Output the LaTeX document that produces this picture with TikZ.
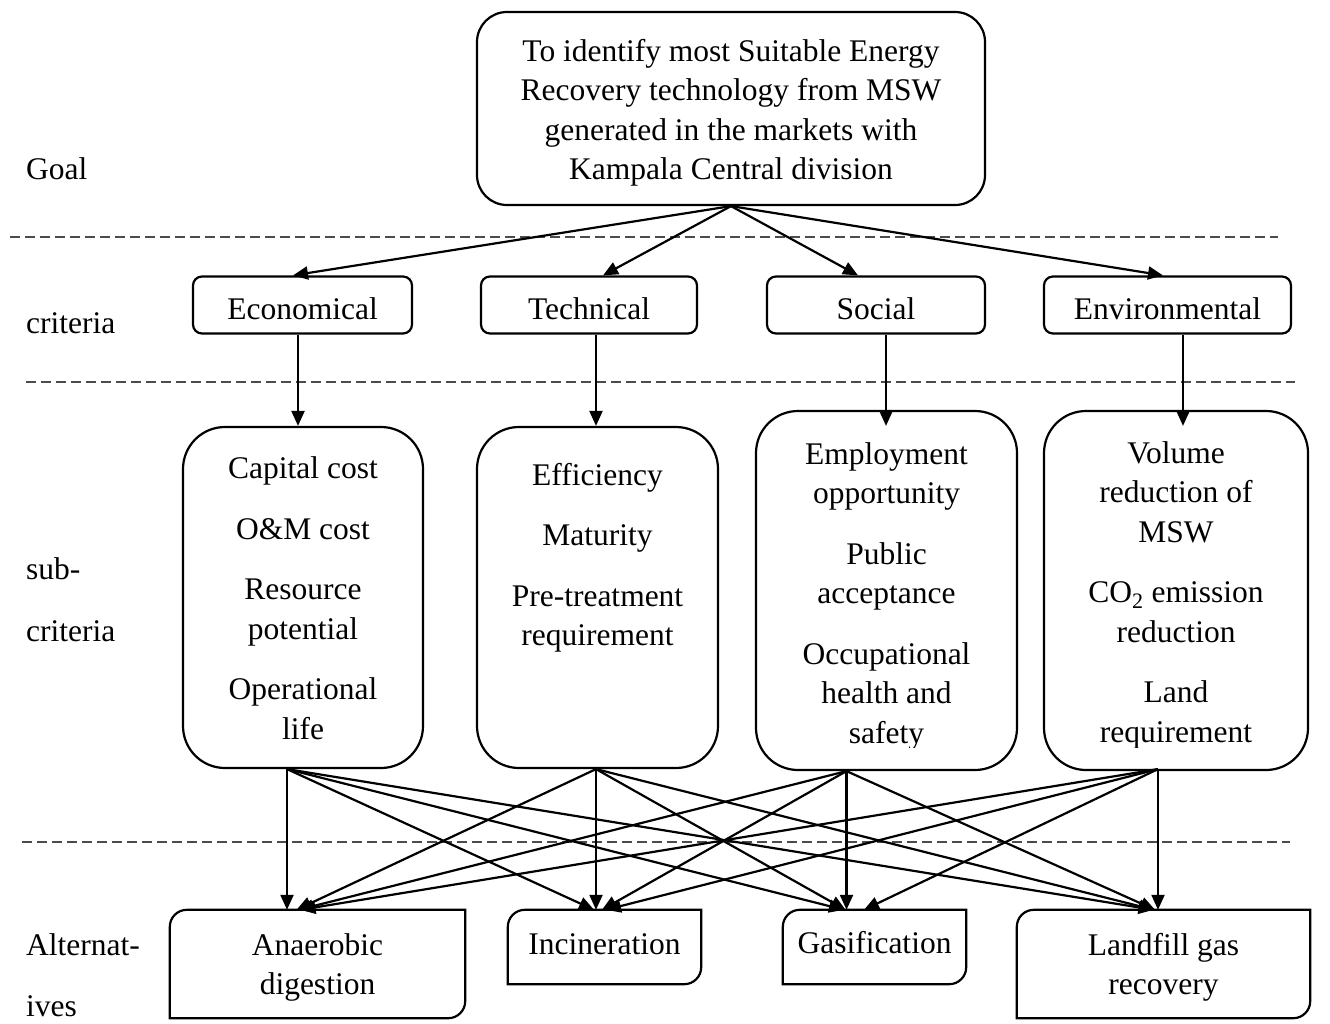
\documentclass[tikz,border=0pt]{standalone}
\usepackage{fontspec}
\setmainfont{Liberation Serif}
\usetikzlibrary{arrows.meta,calc}
\begin{document}
\begin{tikzpicture}[x=1pt,y=-1pt,
  every node/.style={font=\fontsize{31.5}{39.5}\selectfont, inner sep=0pt},
  txt/.style={align=center, anchor=north},
  lbl/.style={anchor=base west},
  goalbox/.style={draw, line width=2.2pt, rounded corners=30pt},
  critbox/.style={draw, line width=2.2pt, rounded corners=9pt, minimum height=57pt, text height=28pt, text depth=0pt},
  subbox/.style={draw, line width=2.2pt, rounded corners=42pt},
  altframe/.style={line width=2.2pt},
  conn/.style={line width=2.2pt, -{Triangle[length=15pt,width=13pt]}},
  sep/.style={line width=1.2pt, draw=black!70, dash pattern=on 10pt off 5pt}
]
\useasboundingbox (0,0) rectangle (1330,1024);

% separators
\draw[sep] (10,237) -- (1278,237);
\draw[sep] (26,382) -- (1295,382);
\draw[sep] (22,842) -- (1290,842);

% level labels
\node[lbl] (lgoal) at (26,180) {Goal};
\node[lbl] (lcrit) at (26,333) {criteria};
\node[lbl] (lsubA) at (26,579) {sub-};
\node[lbl] (lsubB) at (26,641) {criteria};
\node[lbl] (laltA) at (26,955) {Alternat-};
\node[lbl] (laltB) at (26,1016) {ives};

% goal
\node[goalbox, minimum width=508pt, minimum height=193pt] (goal) at (731,108.5) {};
\node[txt] (goalT) at (731,33.35) {\strut To identify most Suitable Energy\\Recovery technology from MSW\\generated in the markets with\\Kampala Central division};

% criteria
\node[critbox, minimum width=219pt] (econ) at (302.5,305) {Economical};
\node[critbox, minimum width=216pt] (tech) at (589,305) {Technical};
\node[critbox, minimum width=218pt] (soc) at (876,305) {Social};
\node[critbox, minimum width=247pt] (env) at (1167.5,305) {Environmental};

% sub-criteria
\node[subbox, minimum width=240pt, minimum height=341pt] (sub1) at (303,597.5) {};
\node[subbox, minimum width=241pt, minimum height=341pt] (sub2) at (597.5,597.5) {};
\node[subbox, minimum width=261pt, minimum height=359pt] (sub3) at (886.5,590.5) {};
\node[subbox, minimum width=264pt, minimum height=359pt] (sub4) at (1176,590.5) {};

\node[txt] (sub1T) at (303,451) {\strut Capital cost\\[21pt]O\&M cost\\[21pt]Resource\\potential\\[21pt]Operational\\life};
\node[txt] (sub2T) at (597.5,457.35) {\strut Efficiency\\[21pt]Maturity\\[21pt]Pre-treatment\\requirement};
\begin{scope}
\clip (740,400) rectangle (1320,747);
\node[txt] (sub3T) at (886.5,436.35) {\strut Employment\\opportunity\\[21pt]Public\\acceptance\\[21pt]Occupational\\health and\\safety};
\node[txt] (sub4T) at (1176,435.35) {\strut Volume\\reduction of\\MSW\\[21pt]CO\textsubscript{2} emission\\reduction\\[21pt]Land\\requirement};
\end{scope}

% alternatives
\node[minimum width=295pt, minimum height=108pt] (altA) at (317.5,964) {};
\node[minimum width=193pt, minimum height=74pt] (altI) at (604.5,947) {};
\node[minimum width=183pt, minimum height=74pt] (altG) at (874.5,947) {};
\node[minimum width=293pt, minimum height=108pt] (altL) at (1163.5,964) {};
\foreach \n in {altA,altI,altG,altL}{
  \draw[altframe] (\n.north east) -- ([yshift=17pt]\n.south east) arc[start angle=0,end angle=-90,radius=17pt] -- (\n.south west) -- ([yshift=-17pt]\n.north west) arc[start angle=180,end angle=90,radius=17pt] -- cycle;
}
\node[txt] (altAT) at (317.5,927.35) {\strut Anaerobic\\digestion};
\node[anchor=base] (altIT) at (604.5,954) {Incineration};
\node[anchor=base] (altGT) at (874.5,953) {Gasification};
\node[txt] (altLT) at (1163.5,927.35) {\strut Landfill gas\\recovery};

% goal -> criteria
\draw[conn] (goal.south) -- ([xshift=-9.5pt]econ.north);
\draw[conn] (goal.south) -- ([xshift=14pt]tech.north);
\draw[conn] (goal.south) -- ([xshift=-18pt]soc.north);
\draw[conn] (goal.south) -- ([xshift=-4.5pt]env.north);

% criteria -> sub-criteria
\draw[conn] ([xshift=-4.5pt]econ.south) -- ([xshift=-5pt]sub1.north);
\draw[conn] ([xshift=7pt]tech.south) -- ([xshift=-1.5pt]sub2.north);
\draw[conn] ([xshift=10pt]soc.south) -- ([xshift=-0.5pt,yshift=-16pt]sub3.north);
\draw[conn] ([xshift=15.5pt]env.south) -- ([xshift=7pt,yshift=-16pt]sub4.north);

% sub-criteria -> alternatives
\coordinate (s1) at ([xshift=-16pt]sub1.south);
\coordinate (s2) at ([xshift=-1.5pt]sub2.south);
\coordinate (s3) at ([xshift=-40pt]sub3.south);
\coordinate (s4) at ([xshift=-18pt,yshift=2pt]sub4.south);

\draw[conn] (s1) -- ([xshift=-30.5pt]altA.north);
\draw[conn] (s2) -- ([xshift=-21pt]altA.north);
\draw[conn] (s3) -- ([xshift=-19pt]altA.north);
\draw[conn] (s4) -- ([xshift=-17pt]altA.north);

\draw[conn] (s1) -- ([xshift=-10.5pt]altI.north);
\draw[conn] (s2) -- ([xshift=-8.5pt]altI.north);
\draw[conn] (s3) -- ([xshift=-2.5pt]altI.north);
\draw[conn] (s4) -- ([xshift=1.5pt]altI.north);

\draw[conn] (s1) -- ([xshift=-30.5pt]altG.north);
\draw[conn] (s2) -- ([xshift=-29pt]altG.north);
\draw[conn] (s3) -- ([xshift=-28pt]altG.north);
\draw[conn] (s4) -- ([xshift=-10.5pt]altG.north);

\draw[conn] (s1) -- ([xshift=-10pt]altL.north);
\draw[conn] (s2) -- ([xshift=-9.5pt]altL.north);
\draw[conn] (s3) -- ([xshift=-8.5pt]altL.north);
\draw[conn] (s4) -- ([xshift=-5.5pt]altL.north);
\end{tikzpicture}
\end{document}
